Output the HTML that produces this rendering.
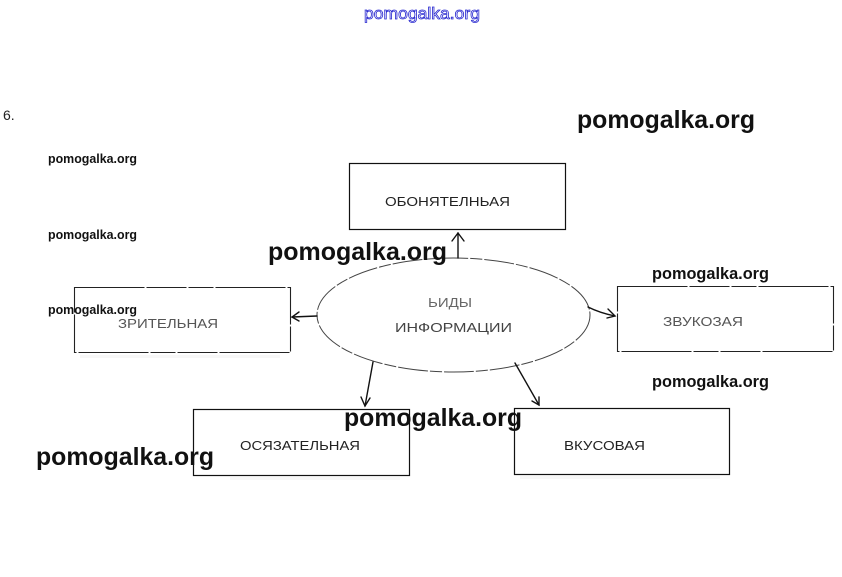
<!DOCTYPE html>
<html>
<head>
<meta charset="utf-8">
<style>
html,body{margin:0;padding:0;background:#fff;}
svg{display:block;}
</style>
</head>
<body>
<svg width="842" height="577" viewBox="0 0 842 577" xmlns="http://www.w3.org/2000/svg" font-family="'Liberation Sans', 'Noto Sans CJK SC', sans-serif">
  <rect width="842" height="577" fill="#fff"/>

  <!-- top blue watermark -->
  <text x="364" y="19" font-size="17" fill="#ffffff" stroke="#2a2ad0" stroke-width="0.8" textLength="116" lengthAdjust="spacingAndGlyphs">pomogalka.org</text>

  <!-- 6. -->
  <text x="3" y="120" font-size="14" fill="#222">6.</text>

  <!-- faint noise -->
  <g fill="#f7f7f7">
    <rect x="80" y="355" width="200" height="3"/>
    <rect x="230" y="477" width="170" height="3"/>
    <rect x="520" y="476" width="200" height="3"/>
  </g>

  <!-- boxes -->
  <g fill="none" stroke="#111" stroke-width="1.2">
    <rect x="349.5" y="163.5" width="216" height="66"/>
    <rect x="193.5" y="409.5" width="216" height="66"/>
    <rect x="514.5" y="408.5" width="215" height="66"/>
  </g>
  <g fill="none" stroke="#222" stroke-width="1.1" stroke-dasharray="70 2 40 2 25 2">
    <rect x="74.5" y="287.5" width="216" height="65"/>
    <rect x="617.5" y="286.5" width="216" height="65"/>
  </g>

  <!-- ellipse -->
  <ellipse cx="453.5" cy="315" rx="136.5" ry="57" fill="none" stroke="#444" stroke-width="1" stroke-dasharray="30 2 12 2"/>

  <!-- arrows -->
  <g fill="none" stroke="#111" stroke-width="1.4" stroke-linecap="round">
    <!-- up -->
    <line x1="458" y1="258" x2="458" y2="233"/>
    <polyline points="452,241 458,233 464,241"/>
    <!-- left -->
    <line x1="317" y1="316" x2="292" y2="317"/>
    <polyline points="299,312 292,317 299,321"/>
    <!-- right -->
    <path d="M588,307 Q600,313 615,316"/>
    <polyline points="608,309 615,316 607,318"/>
    <!-- bottom left -->
    <line x1="373" y1="362" x2="365" y2="406"/>
    <polyline points="361,397 365,406 370,398"/>
    <!-- bottom right -->
    <line x1="515" y1="363" x2="539" y2="405"/>
    <polyline points="532,401 539,405 539,397"/>
  </g>

  <!-- box labels -->
  <g font-size="13" fill="#222">
    <text x="385" y="206" textLength="125" lengthAdjust="spacingAndGlyphs">ОБОНЯТЕЛНЬАЯ</text>
    <text x="118" y="328" fill="#555" textLength="100" lengthAdjust="spacingAndGlyphs">ЗРИТЕЛЬНАЯ</text>
    <text x="663" y="326" fill="#555" textLength="80" lengthAdjust="spacingAndGlyphs">ЗВУКОЗАЯ</text>
    <text x="240" y="450" textLength="120" lengthAdjust="spacingAndGlyphs">ОСЯЗАТЕЛЬНАЯ</text>
    <text x="564" y="450" textLength="81" lengthAdjust="spacingAndGlyphs">ВКУСОВАЯ</text>
    <text x="428" y="307" fill="#666" textLength="44" lengthAdjust="spacingAndGlyphs">ЬИДЫ</text>
    <text x="395" y="332" fill="#444" textLength="117" lengthAdjust="spacingAndGlyphs">ИНФОРМАЦИИ</text>
  </g>

  <!-- watermarks -->
  <g font-weight="bold" fill="#111">
    <text x="577" y="128" font-size="25" textLength="178" lengthAdjust="spacingAndGlyphs">pomogalka.org</text>
    <text x="268" y="260" font-size="25" textLength="179" lengthAdjust="spacingAndGlyphs">pomogalka.org</text>
    <text x="344" y="426" font-size="25" textLength="178" lengthAdjust="spacingAndGlyphs">pomogalka.org</text>
    <text x="36" y="465" font-size="25" textLength="178" lengthAdjust="spacingAndGlyphs">pomogalka.org</text>
    <text x="652" y="279" font-size="17" textLength="117" lengthAdjust="spacingAndGlyphs">pomogalka.org</text>
    <text x="652" y="387" font-size="17" textLength="117" lengthAdjust="spacingAndGlyphs">pomogalka.org</text>
    <text x="48" y="163" font-size="12.5" textLength="89" lengthAdjust="spacingAndGlyphs">pomogalka.org</text>
    <text x="48" y="239" font-size="12.5" textLength="89" lengthAdjust="spacingAndGlyphs">pomogalka.org</text>
    <text x="48" y="314" font-size="12.5" textLength="89" lengthAdjust="spacingAndGlyphs">pomogalka.org</text>
  </g>
</svg>
</body>
</html>
